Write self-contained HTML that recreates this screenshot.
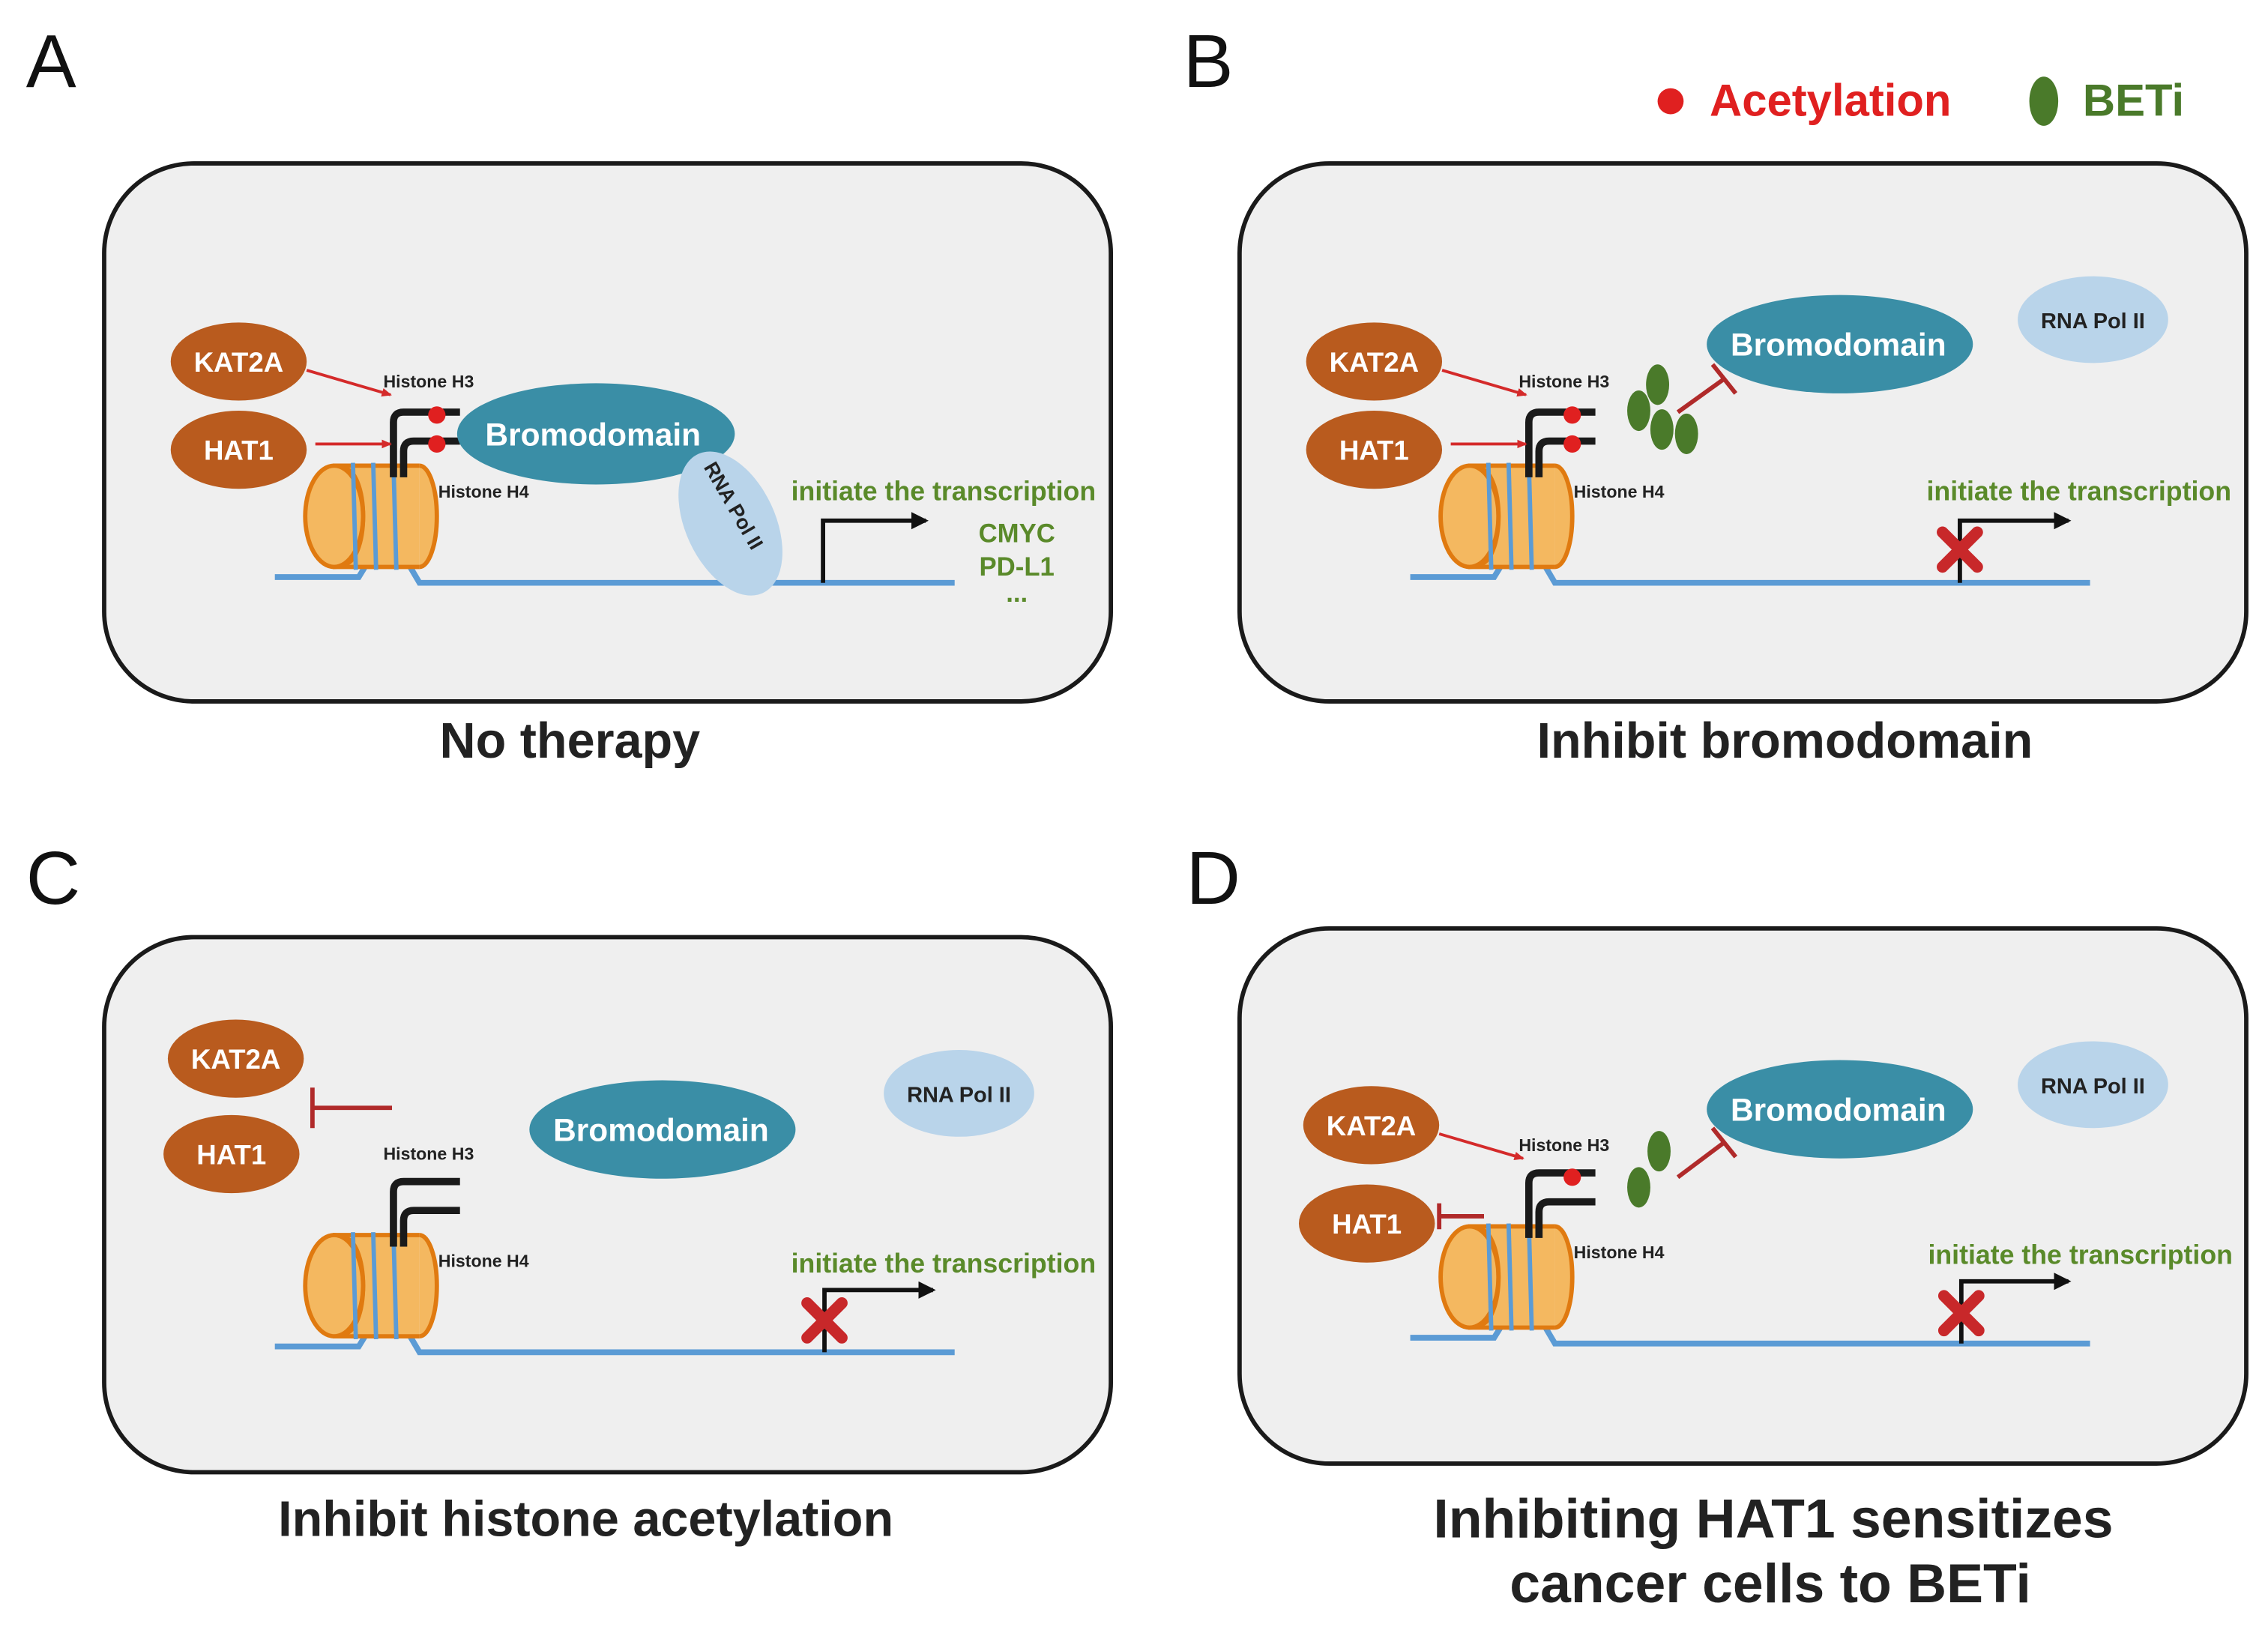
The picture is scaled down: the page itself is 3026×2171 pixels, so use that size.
<!DOCTYPE html>
<html><head><meta charset="utf-8"><style>
html,body{margin:0;padding:0;background:#fff;}
svg{display:block;}
text{font-family:"Liberation Sans",sans-serif;font-weight:bold;}
</style></head><body>
<svg width="3026" height="2171" viewBox="0 0 1568 1125" xmlns="http://www.w3.org/2000/svg">
<defs>
<g id="nuc">
  <polyline points="190,399 248,399 256,386" fill="none" stroke="#5b9bd5" stroke-width="4"/>
  <polyline points="280,386 290,403 660,403" fill="none" stroke="#5b9bd5" stroke-width="4"/>
  <rect x="230" y="322" width="60" height="70" fill="#f4b860"/>
  <line x1="230" y1="322" x2="290" y2="322" stroke="#e07a10" stroke-width="3"/>
  <line x1="230" y1="392" x2="290" y2="392" stroke="#e07a10" stroke-width="3"/>
  <path d="M290,322 A12,35 0 0 1 290,392" fill="#f4b860" stroke="#e07a10" stroke-width="3"/>
  <ellipse cx="231" cy="357" rx="20" ry="35" fill="#f4b860" stroke="#e07a10" stroke-width="3"/>
  <path d="M238,324 A13,33 0 0 1 238,390" fill="none" stroke="#e07a10" stroke-width="3"/>
  <line x1="244" y1="320" x2="246" y2="394" stroke="#5b9bd5" stroke-width="3"/>
  <line x1="258" y1="320" x2="260" y2="394" stroke="#5b9bd5" stroke-width="3"/>
  <line x1="272" y1="320" x2="274" y2="394" stroke="#5b9bd5" stroke-width="3"/>
  <path d="M272,330 L272,292 Q272,285 279,285 L318,285" fill="none" stroke="#1a1a1a" stroke-width="5"/>
  <path d="M279,330 L279,312 Q279,305 286,305 L318,305" fill="none" stroke="#1a1a1a" stroke-width="5"/>
  <text x="303" y="344" font-size="12" fill="#222">Histone H4</text>
</g>
<g id="xmark">
  <path d="M-12,-12 L12,12 M12,-12 L-12,12" stroke="#c8282a" stroke-width="8" stroke-linecap="round"/>
</g>
<marker id="ar" markerWidth="8" markerHeight="8" refX="6" refY="4" orient="auto" markerUnits="userSpaceOnUse"><path d="M0,1 L7,4 L0,7 z" fill="#d42a2a"/></marker>
<marker id="ak" markerWidth="14" markerHeight="12" refX="10" refY="6" orient="auto" markerUnits="userSpaceOnUse"><path d="M0,0 L12,6 L0,12 z" fill="#111"/></marker>
</defs>

<!-- Letters -->
<text x="18" y="60" font-size="52" style="font-weight:normal" fill="#111">A</text>
<text x="818" y="60" font-size="52" style="font-weight:normal" fill="#111">B</text>
<text x="18" y="625" font-size="52" style="font-weight:normal" fill="#111">C</text>
<text x="820" y="625" font-size="52" style="font-weight:normal" fill="#111">D</text>

<!-- Legend -->
<circle cx="1155" cy="70" r="9" fill="#e02020"/>
<text x="1182" y="80" font-size="31" fill="#e02020">Acetylation</text>
<ellipse cx="1413" cy="70" rx="10" ry="17" fill="#4a7a2a"/>
<text x="1440" y="80" font-size="31" fill="#4a7a2a">BETi</text>

<!-- Panels -->
<rect x="72" y="113" width="696" height="372" rx="62" fill="#efefef" stroke="#1a1a1a" stroke-width="3"/>
<rect x="857" y="113" width="696" height="372" rx="62" fill="#efefef" stroke="#1a1a1a" stroke-width="3"/>
<rect x="72" y="648" width="696" height="370" rx="62" fill="#efefef" stroke="#1a1a1a" stroke-width="3"/>
<rect x="857" y="642" width="696" height="370" rx="62" fill="#efefef" stroke="#1a1a1a" stroke-width="3"/>

<!-- Captions -->
<text x="394" y="524" font-size="34.5" text-anchor="middle" fill="#222">No therapy</text>
<text x="1234" y="524" font-size="34.5" text-anchor="middle" fill="#222">Inhibit bromodomain</text>
<text x="405" y="1062" font-size="34.5" text-anchor="middle" fill="#222">Inhibit histone acetylation</text>
<text x="1226" y="1063" font-size="38" text-anchor="middle" fill="#222">Inhibiting HAT1 sensitizes</text>
<text x="1224" y="1108" font-size="38" text-anchor="middle" fill="#222">cancer cells to BETi</text>

<!-- Panel A -->
<use href="#nuc"/>
<ellipse cx="165" cy="250" rx="47" ry="27" fill="#b95b1e"/>
<text x="165" y="257" font-size="19" text-anchor="middle" fill="#fff">KAT2A</text>
<ellipse cx="165" cy="311" rx="47" ry="27" fill="#b95b1e"/>
<text x="165" y="318" font-size="19" text-anchor="middle" fill="#fff">HAT1</text>
<line x1="212" y1="256" x2="270" y2="273" stroke="#d42a2a" stroke-width="2" marker-end="url(#ar)"/>
<line x1="218" y1="307" x2="270" y2="307" stroke="#d42a2a" stroke-width="2" marker-end="url(#ar)"/>
<text x="265" y="268" font-size="12" fill="#222">Histone H3</text>
<circle cx="302" cy="287" r="6" fill="#e02020"/>
<circle cx="302" cy="307" r="6" fill="#e02020"/>
<ellipse cx="412" cy="300" rx="96" ry="35" fill="#3a8ea6"/>
<text x="410" y="308" font-size="22" text-anchor="middle" fill="#fff">Bromodomain</text>
<g transform="translate(505,362) rotate(-25)">
<ellipse cx="0" cy="0" rx="31" ry="53" fill="#b9d4ea"/>
</g>
<text x="0" y="0" font-size="14" fill="#222" text-anchor="middle" transform="translate(503,352) rotate(60)">RNA Pol II</text>
<polyline points="569,403 569,360 640,360" fill="none" stroke="#111" stroke-width="3" marker-end="url(#ak)"/>
<text x="547" y="346" font-size="18.5" fill="#5a8a2a">initiate the transcription</text>
<text x="703" y="375" font-size="18" text-anchor="middle" fill="#5a8a2a">CMYC</text>
<text x="703" y="398" font-size="18" text-anchor="middle" fill="#5a8a2a">PD-L1</text>
<text x="703" y="416" font-size="18" text-anchor="middle" fill="#5a8a2a">...</text>

<!-- Panel B -->
<use href="#nuc" transform="translate(785,0)"/>
<ellipse cx="950" cy="250" rx="47" ry="27" fill="#b95b1e"/>
<text x="950" y="257" font-size="19" text-anchor="middle" fill="#fff">KAT2A</text>
<ellipse cx="950" cy="311" rx="47" ry="27" fill="#b95b1e"/>
<text x="950" y="318" font-size="19" text-anchor="middle" fill="#fff">HAT1</text>
<line x1="997" y1="256" x2="1055" y2="273" stroke="#d42a2a" stroke-width="2" marker-end="url(#ar)"/>
<line x1="1003" y1="307" x2="1055" y2="307" stroke="#d42a2a" stroke-width="2" marker-end="url(#ar)"/>
<text x="1050" y="268" font-size="12" fill="#222">Histone H3</text>
<circle cx="1087" cy="287" r="6" fill="#e02020"/>
<circle cx="1087" cy="307" r="6" fill="#e02020"/>
<ellipse cx="1133" cy="284" rx="8" ry="14" fill="#4a7a2a"/>
<ellipse cx="1146" cy="266" rx="8" ry="14" fill="#4a7a2a"/>
<ellipse cx="1149" cy="297" rx="8" ry="14" fill="#4a7a2a"/>
<ellipse cx="1166" cy="300" rx="8" ry="14" fill="#4a7a2a"/>
<line x1="1160" y1="285" x2="1192" y2="262" stroke="#b02a2a" stroke-width="3"/>
<line x1="1184" y1="252" x2="1200" y2="272" stroke="#b02a2a" stroke-width="3"/>
<ellipse cx="1272" cy="238" rx="92" ry="34" fill="#3a8ea6"/>
<text x="1271" y="246" font-size="22" text-anchor="middle" fill="#fff">Bromodomain</text>
<ellipse cx="1447" cy="221" rx="52" ry="30" fill="#b9d4ea"/>
<text x="1447" y="227" font-size="15" text-anchor="middle" fill="#222">RNA Pol II</text>
<polyline points="1355,403 1355,360 1430,360" fill="none" stroke="#111" stroke-width="3" marker-end="url(#ak)"/>
<use href="#xmark" transform="translate(1355,380)"/>
<text x="1332" y="346" font-size="18.5" fill="#5a8a2a">initiate the transcription</text>

<!-- Panel C -->
<use href="#nuc" transform="translate(0,532)"/>
<ellipse cx="163" cy="732" rx="47" ry="27" fill="#b95b1e"/>
<text x="163" y="739" font-size="19" text-anchor="middle" fill="#fff">KAT2A</text>
<ellipse cx="160" cy="798" rx="47" ry="27" fill="#b95b1e"/>
<text x="160" y="805" font-size="19" text-anchor="middle" fill="#fff">HAT1</text>
<line x1="271" y1="766" x2="216" y2="766" stroke="#b02a2a" stroke-width="3"/>
<line x1="216" y1="752" x2="216" y2="780" stroke="#b02a2a" stroke-width="3"/>
<text x="265" y="802" font-size="12" fill="#222">Histone H3</text>
<ellipse cx="458" cy="781" rx="92" ry="34" fill="#3a8ea6"/>
<text x="457" y="789" font-size="22" text-anchor="middle" fill="#fff">Bromodomain</text>
<ellipse cx="663" cy="756" rx="52" ry="30" fill="#b9d4ea"/>
<text x="663" y="762" font-size="15" text-anchor="middle" fill="#222">RNA Pol II</text>
<polyline points="570,935 570,892 645,892" fill="none" stroke="#111" stroke-width="3" marker-end="url(#ak)"/>
<use href="#xmark" transform="translate(570,913)"/>
<text x="547" y="880" font-size="18.5" fill="#5a8a2a">initiate the transcription</text>

<!-- Panel D -->
<use href="#nuc" transform="translate(785,526)"/>
<ellipse cx="948" cy="778" rx="47" ry="27" fill="#b95b1e"/>
<text x="948" y="785" font-size="19" text-anchor="middle" fill="#fff">KAT2A</text>
<ellipse cx="945" cy="846" rx="47" ry="27" fill="#b95b1e"/>
<text x="945" y="853" font-size="19" text-anchor="middle" fill="#fff">HAT1</text>
<line x1="995" y1="784" x2="1053" y2="801" stroke="#d42a2a" stroke-width="2" marker-end="url(#ar)"/>
<line x1="1026" y1="841" x2="995" y2="841" stroke="#b02a2a" stroke-width="3"/>
<line x1="995" y1="832" x2="995" y2="850" stroke="#b02a2a" stroke-width="3"/>
<text x="1050" y="796" font-size="12" fill="#222">Histone H3</text>
<circle cx="1087" cy="814" r="6" fill="#e02020"/>
<ellipse cx="1147" cy="796" rx="8" ry="14" fill="#4a7a2a"/>
<ellipse cx="1133" cy="821" rx="8" ry="14" fill="#4a7a2a"/>
<line x1="1160" y1="814" x2="1192" y2="790" stroke="#b02a2a" stroke-width="3"/>
<line x1="1184" y1="780" x2="1200" y2="800" stroke="#b02a2a" stroke-width="3"/>
<ellipse cx="1272" cy="767" rx="92" ry="34" fill="#3a8ea6"/>
<text x="1271" y="775" font-size="22" text-anchor="middle" fill="#fff">Bromodomain</text>
<ellipse cx="1447" cy="750" rx="52" ry="30" fill="#b9d4ea"/>
<text x="1447" y="756" font-size="15" text-anchor="middle" fill="#222">RNA Pol II</text>
<polyline points="1356,929 1356,886 1430,886" fill="none" stroke="#111" stroke-width="3" marker-end="url(#ak)"/>
<use href="#xmark" transform="translate(1356,908)"/>
<text x="1333" y="874" font-size="18.5" fill="#5a8a2a">initiate the transcription</text>
</svg>
</body></html>
